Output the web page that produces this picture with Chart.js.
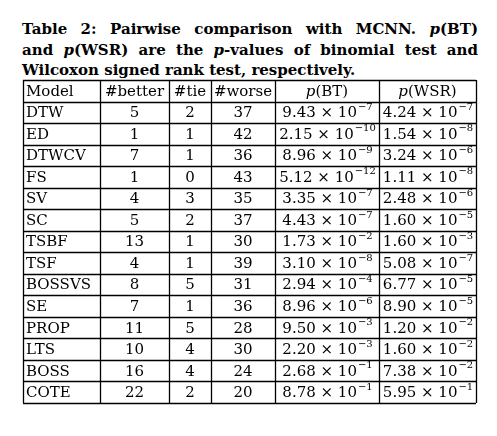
<!DOCTYPE html>
<html><head><meta charset="utf-8">
<script src="https://cdn.jsdelivr.net/npm/chart.js@4"></script>
<style>
html,body{margin:0;padding:0;background:#fff;width:497px;height:436px;overflow:hidden}
#t{position:absolute;left:22px;top:19px;width:456px;font:bold 15px "DejaVu Serif",serif;color:#000;line-height:20.5px}
#t div{white-space:nowrap}
#t .j{text-align:justify;text-align-last:justify}
#c{position:absolute;left:0;top:0}
</style></head><body>
<div id="t"><div class="j">Table 2: Pairwise comparison with MCNN. <i>p</i>(BT)</div>
<div class="j">and <i>p</i>(WSR) are the <i>p</i>-values of binomial test and</div>
<div>Wilcoxon signed rank test, respectively.</div></div>
<canvas id="c" width="497" height="436"></canvas>
<script>
const headers=["Model","#better","#tie","#worse","p(BT)","p(WSR)"];
const models=["DTW","ED","DTWCV","FS","SV","SC","TSBF","TSF","BOSSVS","SE","PROP","LTS","BOSS","COTE"];
const better=[5,1,7,1,4,5,13,4,8,7,11,10,16,22];
const tie=[2,1,1,0,3,2,1,1,5,1,5,4,4,2];
const worse=[37,42,36,43,35,37,30,39,31,36,28,30,24,20];
const pBT=["9.43e-7","2.15e-10","8.96e-9","5.12e-12","3.35e-7","4.43e-7","1.73e-2","3.10e-8","2.94e-4","8.96e-6","9.50e-3","2.20e-3","2.68e-1","8.78e-1"];
const pWSR=["4.24e-7","1.54e-8","3.24e-6","1.11e-8","2.48e-6","1.60e-5","1.60e-3","5.08e-7","6.77e-5","8.90e-5","1.20e-2","1.60e-2","7.38e-2","5.95e-1"];
const colW=[77,69,42,64,104,97];
const F='15px "DejaVu Serif", serif';
function sci(ctx,s,cx,cy){
  const [m,e]=s.split('e');const base=m+' × 10';const ex=e.replace('-','−');
  ctx.font=F;const w1=ctx.measureText(base).width;
  ctx.font='10px "DejaVu Serif", serif';const w2=ctx.measureText(ex).width;
  let x=cx-(w1+w2)/2;
  ctx.textAlign='left';ctx.font=F;ctx.fillText(base,x,cy);
  ctx.font='10px "DejaVu Serif", serif';ctx.fillText(ex,x+w1+1,cy-6);
}
const tablePlugin={id:'tbl',afterDraw(chart){
  const ctx=chart.ctx,a=chart.chartArea,y=chart.scales.y;
  const total=colW.reduce((p,q)=>p+q,0);
  const xs=[a.left];colW.forEach(w=>xs.push(xs[xs.length-1]+w*(a.right-a.left)/total));
  const rows=chart.data.labels;
  const h=(y.getPixelForValue(1)-y.getPixelForValue(0));
  ctx.save();ctx.strokeStyle='#000';ctx.lineWidth=1.3;
  for(let i=0;i<=rows.length;i++){const yy=Math.round(y.getPixelForValue(i)-h/2)+0.5;ctx.beginPath();ctx.moveTo(a.left,yy);ctx.lineTo(a.right,yy);ctx.stroke();}
  xs.forEach(x=>{const xx=Math.round(x)+0.5;ctx.beginPath();ctx.moveTo(xx,a.top);ctx.lineTo(xx,a.bottom);ctx.stroke();});
  ctx.fillStyle='#000';ctx.textBaseline='middle';
  const mid=i=>(xs[i]+xs[i+1])/2;
  rows.forEach((r,i)=>{
    const cy=y.getPixelForValue(i)+1;
    ctx.font=F;
    if(i===0){
      ctx.textAlign='left';ctx.fillText(headers[0],xs[0]+3,cy);
      ctx.textAlign='center';
      for(let c=1;c<4;c++)ctx.fillText(headers[c],mid(c),cy);
      for(let c=4;c<6;c++){
        const rest=headers[c].slice(1);ctx.font='italic 15px "DejaVu Serif", serif';const wp=ctx.measureText('p').width;
        ctx.font=F;const wr=ctx.measureText(rest).width;const x0=mid(c)-(wp+wr)/2;
        ctx.textAlign='left';ctx.font='italic 15px "DejaVu Serif", serif';ctx.fillText('p',x0,cy);
        ctx.font=F;ctx.fillText(rest,x0+wp,cy);
      }
      return;
    }
    const k=i-1;
    ctx.textAlign='left';ctx.fillText(models[k],xs[0]+3,cy);
    ctx.textAlign='center';
    ctx.fillText(String(better[k]),mid(1),cy);
    ctx.fillText(String(tie[k]),mid(2),cy);
    ctx.fillText(String(worse[k]),mid(3),cy);
    sci(ctx,pBT[k],mid(4),cy);
    sci(ctx,pWSR[k],mid(5),cy);
  });
  ctx.restore();
}};
new Chart(document.getElementById('c'),{
  type:'bar',
  data:{labels:['header',...models],datasets:[{data:[]}]},
  options:{indexAxis:'y',responsive:false,animation:false,events:[],
    layout:{padding:{left:23,right:21,top:80,bottom:33}},
    plugins:{legend:{display:false},tooltip:{enabled:false}},
    scales:{x:{display:false},y:{display:false,offset:true}}},
  plugins:[tablePlugin]
});
</script></body></html>
